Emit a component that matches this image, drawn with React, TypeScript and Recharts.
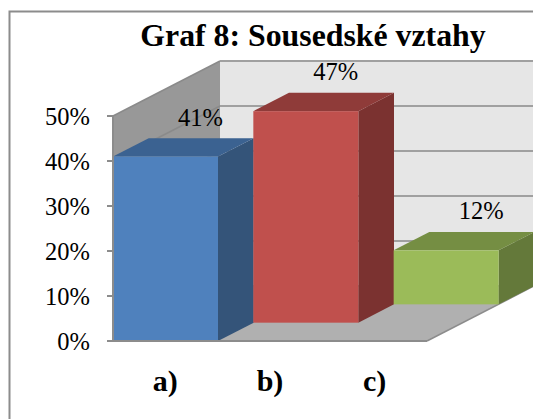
import { Bar, BarChart, LabelList, XAxis, YAxis, usePlotArea } from "recharts";

const categories = ["a)", "b)", "c)"];
const values = [41, 47, 12];
const yTicks = [0, 10, 20, 30, 40, 50];
const faceColors = ["#4f81bd", "#c0504d", "#9bbb59"];
const topColors = ["#3b6291", "#8f3b39", "#758e43"];
const sideColors = ["#345479", "#7b3230", "#64793a"];

const data = categories.map((name, i) => ({ name, value: values[i] }));

const FONT = "'Liberation Serif', 'Times New Roman', serif";
// chart depth of the whole floor, split over the 3 bars
const DEPTH_X = 107;
const DEPTH_Y = 55;
const STEP_X = DEPTH_X / 3;
const STEP_Y = DEPTH_Y / 3;
const YMAX = 50;
const labelNudge = [35, 30, 35];

const Walls = () => {
  const plot = usePlotArea();
  if (!plot) return null;
  const left = plot.x;
  const right = plot.x + plot.width;
  const top = plot.y;
  const bottom = plot.y + plot.height;
  const yOf = (t: number) => bottom - (t / YMAX) * plot.height;
  return (
    <g>
      <path d="M9.5 419V11.5H533" fill="none" stroke="#8c8c8c" strokeWidth={2} />
      <polygon
        points={`${left + DEPTH_X},${top - DEPTH_Y} ${right + DEPTH_X},${top - DEPTH_Y} ${right + DEPTH_X},${bottom - DEPTH_Y} ${left + DEPTH_X},${bottom - DEPTH_Y}`}
        fill="#e6e6e6"
      />
      <polygon
        points={`${left},${top} ${left + DEPTH_X},${top - DEPTH_Y} ${left + DEPTH_X},${bottom - DEPTH_Y} ${left},${bottom}`}
        fill="#989898"
      />
      <polygon
        points={`${left},${bottom} ${left + DEPTH_X},${bottom - DEPTH_Y} ${right + DEPTH_X},${bottom - DEPTH_Y} ${right},${bottom}`}
        fill="#b0b0b0"
      />
      {yTicks.map((t) => (
        <g key={t}>
          <line x1={left} y1={yOf(t)} x2={left + DEPTH_X} y2={yOf(t) - DEPTH_Y} stroke="#8a8a8a" strokeWidth={1.5} />
          <line x1={left + DEPTH_X} y1={yOf(t) - DEPTH_Y} x2={right + DEPTH_X} y2={yOf(t) - DEPTH_Y} stroke="#a0a0a0" strokeWidth={2} />
        </g>
      ))}
      <line x1={right} y1={bottom} x2={right + DEPTH_X} y2={bottom - DEPTH_Y} stroke="#8c8c8c" strokeWidth={1.5} />
      <text
        x={313}
        y={46}
        textAnchor="middle"
        fontFamily={FONT}
        fontSize={31.8}
        fontWeight="bold"
        fill="#000"
      >
        Graf 8: Sousedské vztahy
      </text>
    </g>
  );
};

const Box = (props: any) => {
  const { x, y, width, height, index } = props;
  const dx = STEP_X * index;
  const dy = STEP_Y * index;
  const fx = x + dx;
  const fy = y - dy;
  const b = fy + height;
  return (
    <g>
      <polygon
        points={`${fx + width},${fy} ${fx + width + STEP_X},${fy - STEP_Y} ${fx + width + STEP_X},${b - STEP_Y} ${fx + width},${b}`}
        fill={sideColors[index]}
      />
      <polygon
        points={`${fx},${fy} ${fx + STEP_X},${fy - STEP_Y} ${fx + width + STEP_X},${fy - STEP_Y} ${fx + width},${fy}`}
        fill={topColors[index]}
      />
      <rect x={fx} y={fy} width={width} height={height} fill={faceColors[index]} />
    </g>
  );
};

const ValueLabel = (props: any) => {
  const { x, y, width, value, index } = props;
  return (
    <text
      x={x + width / 2 + STEP_X * index + labelNudge[index]}
      y={y - STEP_Y * index - 31}
      textAnchor="middle"
      fontFamily={FONT}
      fontSize={24.5}
      fill="#000"
    >
      {value}%
    </text>
  );
};

export default function App() {
  return (
    <div style={{ position: "absolute", left: 0, top: 0, width: 533, height: 419, background: "#fff", overflow: "hidden" }}>
      <BarChart
        width={533}
        height={419}
        data={data}
        barCategoryGap={0}
        margin={{ top: 116, right: 106, bottom: 38, left: 53 }}
      >
        <Walls />
        <XAxis
          dataKey="name"
          height={40}
          tickLine={false}
          tickMargin={23}
          axisLine={{ stroke: "#8c8c8c", strokeWidth: 2 }}
          tick={{ fontFamily: FONT, fontSize: 30, fontWeight: "bold", fill: "#000" }}
        />
        <YAxis
          width={60}
          domain={[0, YMAX]}
          ticks={yTicks}
          tickFormatter={(v) => `${v}%`}
          tickSize={6}
          tickMargin={17}
          tickLine={{ stroke: "#8c8c8c", strokeWidth: 2 }}
          axisLine={{ stroke: "#8c8c8c", strokeWidth: 2 }}
          tick={{ fontFamily: FONT, fontSize: 24.5, fill: "#000" }}
        />
        <Bar dataKey="value" shape={Box} isAnimationActive={false}>
          <LabelList dataKey="value" content={ValueLabel} />
        </Bar>
      </BarChart>
    </div>
  );
}
